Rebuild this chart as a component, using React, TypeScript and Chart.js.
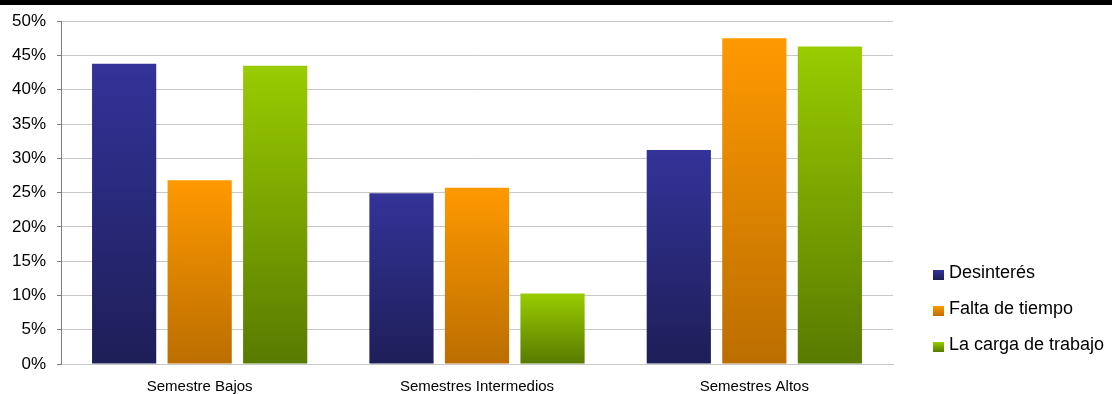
import React, { useEffect, useRef } from "react";
import { Chart, registerables } from "chart.js";

Chart.register(...registerables);

const categories = ["Semestre Bajos", "Semestres Intermedios", "Semestres Altos"];
const seriesNames = ["Desinterés", "Falta de tiempo", "La carga de trabajo"];
const desinteres = [43.8, 24.9, 31.2];
const faltaTiempo = [26.8, 25.7, 47.5];
const cargaTrabajo = [43.5, 10.3, 46.3];
const yTicks = [0, 5, 10, 15, 20, 25, 30, 35, 40, 45, 50];

const topColors = ["#333399", "#ff9900", "#99cc00"];
const bottomColors = ["#1e1e58", "#bb6e00", "#587a00"];

const FONT = "'Liberation Sans', Arial, sans-serif";

function barGradient(ctx: any, idx: number) {
  const chart = ctx.chart;
  if (!chart.chartArea || ctx.type !== "data") return topColors[idx];
  const y = chart.scales.y;
  const top = y.getPixelForValue(ctx.raw);
  const bottom = y.getPixelForValue(0);
  if (!isFinite(top) || !isFinite(bottom) || top === bottom) return topColors[idx];
  const g = chart.ctx.createLinearGradient(0, top, 0, bottom);
  g.addColorStop(0, topColors[idx]);
  g.addColorStop(1, bottomColors[idx]);
  return g;
}

const legendPlugin = {
  id: "customLegend",
  afterDraw(chart: any) {
    const c = chart.ctx;
    c.save();
    c.font = `18px ${FONT}`;
    c.textBaseline = "middle";
    c.textAlign = "left";
    const x0 = 933;
    const ys = [273, 309, 345];
    seriesNames.forEach((name, i) => {
      const y = ys[i];
      const g = c.createLinearGradient(0, y - 3, 0, y + 7);
      g.addColorStop(0, topColors[i]);
      g.addColorStop(1, bottomColors[i]);
      c.fillStyle = g;
      c.fillRect(x0, y - 3, 11, 10);
      c.fillStyle = "#000";
      c.fillText(name, x0 + 16, y);
    });
    c.restore();
  },
};

export default function App() {
  const ref = useRef<HTMLCanvasElement | null>(null);
  useEffect(() => {
    if (!ref.current) return;
    const series = [desinteres, faltaTiempo, cargaTrabajo];
    const chart = new Chart(ref.current, {
      type: "bar",
      data: {
        labels: categories,
        datasets: series.map((d, i) => ({
          label: seriesNames[i],
          data: d,
          backgroundColor: (ctx: any) => barGradient(ctx, i),
          borderWidth: 0,
          categoryPercentage: 0.817,
          barPercentage: 0.85,
        })),
      },
      options: {
        animation: false,
        responsive: false,
        maintainAspectRatio: false,
        layout: { padding: { top: 7, right: 219, bottom: 0, left: 0 } },
        plugins: {
          legend: { display: false },
          tooltip: { enabled: false },
        },
        scales: {
          x: {
            grid: { display: false },
            border: { color: "#c8c8c8", width: 1 },
            ticks: {
              color: "#000",
              font: { family: FONT, size: 15 },
              padding: 6,
            },
            afterFit: (s: any) => {
              s.height = 30;
            },
          },
          y: {
            min: 0,
            max: 50,
            afterBuildTicks: (s: any) => {
              s.ticks = yTicks.map((v) => ({ value: v }));
            },
            grid: {
              color: "#c8c8c8",
              tickColor: "#808080",
              tickLength: 4,
              drawTicks: true,
            },
            border: { color: "#808080", width: 1 },
            ticks: {
              color: "#000",
              font: { family: FONT, size: 17 },
              padding: 11,
              callback: (v: any) => `${v}%`,
            },
            afterFit: (s: any) => {
              s.width = 61;
            },
          },
        },
      },
      plugins: [legendPlugin],
    });
    return () => chart.destroy();
  }, []);
  return (
    <div
      style={{
        position: "fixed",
        top: 0,
        left: 0,
        width: 1112,
        height: 394,
        background: "#fff",
        overflow: "hidden",
      }}
    >
      <canvas
        ref={ref}
        width={1112}
        height={394}
        style={{ display: "block", position: "absolute", top: 0, left: 0 }}
      />
      <div
        style={{
          position: "absolute",
          top: 0,
          left: 0,
          width: 1112,
          height: 5,
          background: "#000",
          zIndex: 2,
        }}
      />
    </div>
  );
}
